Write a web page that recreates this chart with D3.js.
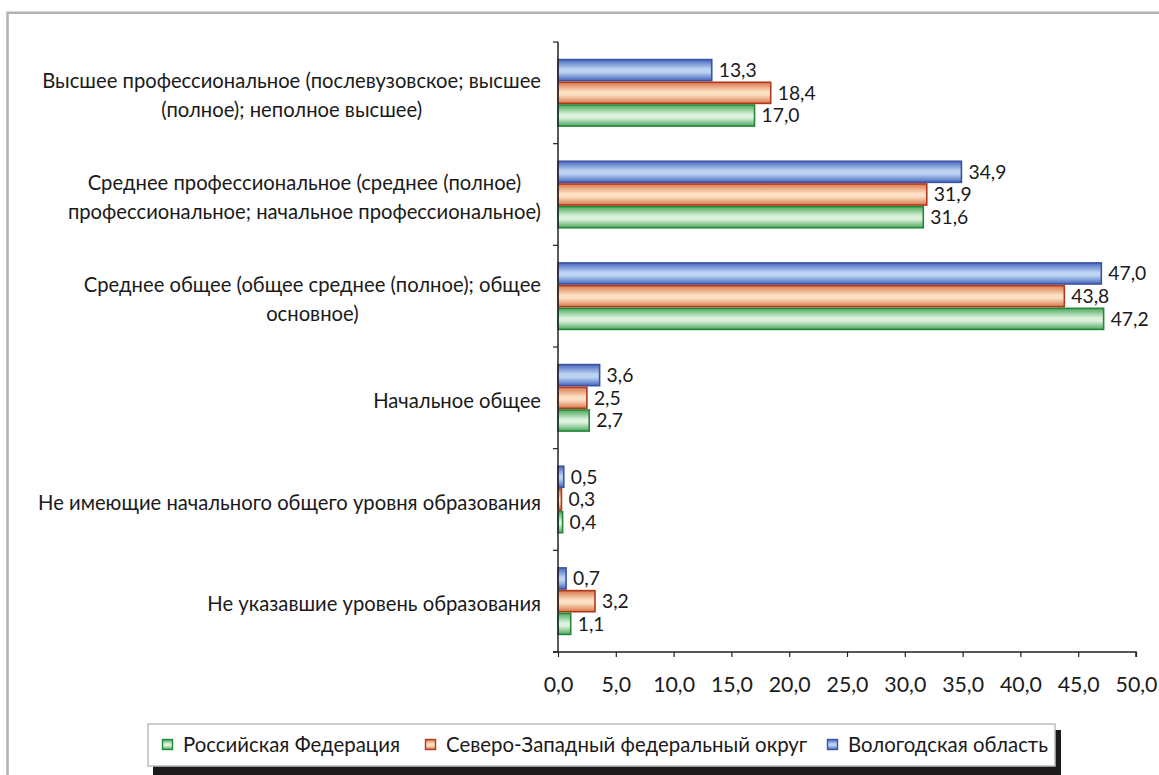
<!DOCTYPE html>
<html>
<head>
<meta charset="utf-8">
<script src="https://cdn.jsdelivr.net/npm/d3@7"></script>
<style>
body{margin:0;background:#fff;}
text{font-family:Lato,"Noto Sans",sans-serif;fill:#1a1a1a;}
</style>
</head>
<body>
<svg id="chart" width="1159" height="775"></svg>
<script>
// categories top to bottom, each label split into lines
var categories=[
  ["Высшее профессиональное (послевузовское; высшее","(полное); неполное высшее)"],
  ["Среднее профессиональное (среднее (полное)","профессиональное; начальное профессиональное)"],
  ["Среднее общее (общее среднее (полное); общее","основное)"],
  ["Начальное общее"],
  ["Не имеющие начального общего уровня образования"],
  ["Не указавшие уровень образования"]
];
var seriesNames=["Вологодская область","Северо-Западный федеральный округ","Российская Федерация"];
var vologda=[13.3,34.9,47.0,3.6,0.5,0.7];
var szfo=[18.4,31.9,43.8,2.5,0.3,3.2];
var rf=[17.0,31.6,47.2,2.7,0.4,1.1];
var xTicks=[0,5,10,15,20,25,30,35,40,45,50];
var legendOrder=[2,1,0];

var colors=[
  {stroke:"#3d52a3",dark:"#4668bf",light:"#bcd3f2"},
  {stroke:"#b0381c",dark:"#d9784a",light:"#fde0c4"},
  {stroke:"#23893a",dark:"#4ea85e",light:"#dcf2dc"}
];
var values=[vologda,szfo,rf];

var svg=d3.select("#chart");
var defs=svg.append("defs");
colors.forEach(function(c,i){
  var g=defs.append("linearGradient").attr("id","g"+i).attr("x1",0).attr("y1",0).attr("x2",0).attr("y2",1);
  g.append("stop").attr("offset","0%").attr("stop-color",c.dark);
  g.append("stop").attr("offset","45%").attr("stop-color",c.light);
  g.append("stop").attr("offset","60%").attr("stop-color",c.light);
  g.append("stop").attr("offset","100%").attr("stop-color",c.dark);
});

function fitSize(str,target,base){//font size giving this width
  var p=svg.append("text").style("font-size",base+"px").text(str);
  var s=base*target/p.node().getComputedTextLength();
  p.remove();
  return s;
}
var valFs=fitSize("13,3",38,16);
var tickFs=fitSize("50,0",42,16);
var labFs=fitSize(categories[4][0],503,16);
var legFs=fitSize(seriesNames[2],217,16);

// outer frame
svg.append("path").attr("d","M7.5,775 V12.8 H1159").attr("fill","none").attr("stroke","#b3b3b3").attr("stroke-width",2.5);

var x=d3.scaleLinear().domain([0,50]).range([558,1136]);
var y=d3.scaleBand().domain(d3.range(categories.length)).range([42,652]).paddingInner(0.33).paddingOuter(0.165);
var ys=d3.scaleBand().domain([0,1,2]).range([0,y.bandwidth()]);

// category tick lines
var catEdges=d3.range(categories.length+1).map(function(i){return 42+i*y.step();});
svg.selectAll(".ctick").data(catEdges).enter().append("line")
  .attr("x1",553).attr("x2",558).attr("y1",function(d){return d;}).attr("y2",function(d){return d;})
  .attr("stroke","#222").attr("stroke-width",1.2);

// bars
var grp=svg.selectAll(".cat").data(categories).enter().append("g")
  .attr("transform",function(d,i){return "translate(0,"+y(i)+")";});
grp.each(function(d,ci){
  var g=d3.select(this);
  values.forEach(function(vals,si){
    g.append("rect").attr("x",x(0)).attr("y",ys(si)+0.8)
      .attr("width",x(vals[ci])-x(0)).attr("height",ys.bandwidth()-1.6)
      .attr("fill","url(#g"+si+")").attr("stroke",colors[si].stroke).attr("stroke-width",1.6);
    g.append("text").attr("x",x(vals[ci])+7).attr("y",ys(si)+ys.bandwidth()/2)
      .attr("dy","0.36em").style("font-size",valFs+"px").text(vals[ci].toFixed(1).replace(".",","));
  });
});

// axes lines
svg.append("line").attr("x1",x(0)).attr("x2",x(0)).attr("y1",42).attr("y2",652).attr("stroke","#222").attr("stroke-width",1.5);
var xAxis=d3.axisBottom(x).tickValues(xTicks).tickSize(5).tickFormat(function(d){return d.toFixed(1).replace(".",",");});
var ax=svg.append("g").attr("transform","translate(0,652)").call(xAxis);
ax.select(".domain").attr("stroke","#222").attr("stroke-width",1.5).attr("d","M"+(x(0)-5)+",0H"+x(50)+"V5");
ax.selectAll(".tick line").attr("stroke","#222").attr("stroke-width",1.2);
ax.selectAll(".tick text").attr("y",33).attr("dy","0.35em").style("font-size",tickFs+"px").style("font-family","Lato,'Noto Sans',sans-serif").attr("fill","#1a1a1a");

// category labels, centred block, right edge at 541
var labG=svg.append("g");
categories.forEach(function(lines,ci){
  var t=labG.append("text").style("font-size",labFs+"px").attr("text-anchor","middle");
  var lh=29;
  var cy=y(ci)+y.bandwidth()/2+3-(lines.length-1)*lh/2;
  lines.forEach(function(l,li){
    t.append("tspan").attr("y",cy+li*lh).attr("dy","0.35em").text(l);
  });
  var w=d3.max(t.selectAll("tspan").nodes(),function(n){return n.getComputedTextLength();});
  t.selectAll("tspan").attr("x",541-w/2);
});

// legend
svg.append("rect").attr("x",153).attr("y",730).attr("width",908).attr("height",45).attr("fill","#1c1a1a");
svg.append("rect").attr("x",148).attr("y",724).attr("width",907).attr("height",42).attr("fill","#fff").attr("stroke","#bdbdbd").attr("stroke-width",1.5);
var legX=[162,425,827];
legendOrder.forEach(function(si,k){
  var lg=svg.append("g").attr("transform","translate("+legX[k]+",744.5)");
  lg.append("rect").attr("x",0.5).attr("y",-5).attr("width",10).attr("height",10)
    .attr("fill","url(#g"+si+")").attr("stroke",colors[si].stroke).attr("stroke-width",1.4);
  lg.append("text").attr("x",21).attr("dy","0.35em").style("font-size",legFs+"px").text(seriesNames[si]);
});
</script>
</body>
</html>
